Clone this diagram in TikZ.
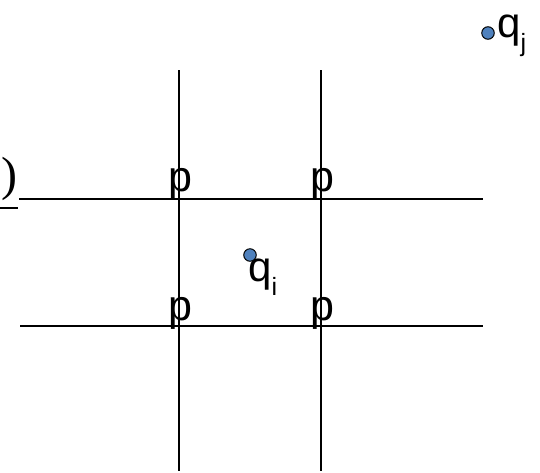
\documentclass[tikz,border=0pt]{standalone}
\usepackage{fontspec}
\setmainfont{Liberation Sans}
\newfontfamily\parenfont{Liberation Serif}
\usepackage{tikz}
\usetikzlibrary{positioning, calc}
\definecolor{ptblue}{RGB}{79,129,189}

\begin{document}
\begin{tikzpicture}[
    x=1pt, y=-1pt,
    gridline/.style={line width=2pt, black},
    lbl/.style={font=\fontsize{43}{43}\selectfont, inner sep=0pt, anchor=base},
    sublbl/.style={font=\fontsize{42}{42}\selectfont, inner sep=0pt, anchor=base west},
    dot/.style={circle, draw=black, fill=ptblue, minimum size=12.5pt, inner sep=0pt, line width=1pt}
]
    \useasboundingbox (0,0) rectangle (540,472);

    % Grid ends
    \coordinate (v1top) at (179,70);   \coordinate (v1bot) at (179,471);
    \coordinate (v2top) at (321,70);   \coordinate (v2bot) at (321,471);
    \coordinate (h1l) at (19,198.5);   \coordinate (h1r) at (483,198.5);
    \coordinate (h2l) at (20,325.5);   \coordinate (h2r) at (483,325.5);
    \coordinate (stubl) at (0,208);    \coordinate (stubr) at (18,208);

    % Lines
    \foreach \i/\j in {v1top/v1bot, v2top/v2bot, h1l/h1r, h2l/h2r, stubl/stubr} {
        \draw[gridline] (\i) -- (\j);
    }

    % Cut-off text at the left
    \node[inner sep=0pt, anchor=base west, font=\parenfont\fontsize{48}{48}\selectfont] (paren) at (1,190) {)};

    % Grid points
    \node[lbl] (p11) at (180,191) {p};
    \node[lbl] (p12) at (322,191) {p};
    \node[lbl] (p21) at (180,320) {p};
    \node[lbl] (p22) at (322,320) {p};

    % Query points
    \node[sublbl] (qilbl) at (248,281) {q\raisebox{-14pt}{\fontsize{25}{25}\selectfont i}};
    \node[dot] (qi) at (250,255) {};

    \node[sublbl] (qjlbl) at (497,37) {q\raisebox{-14pt}{\fontsize{25}{25}\selectfont j}};
    \node[dot] (qj) at (488,33) {};
\end{tikzpicture}
\end{document}
